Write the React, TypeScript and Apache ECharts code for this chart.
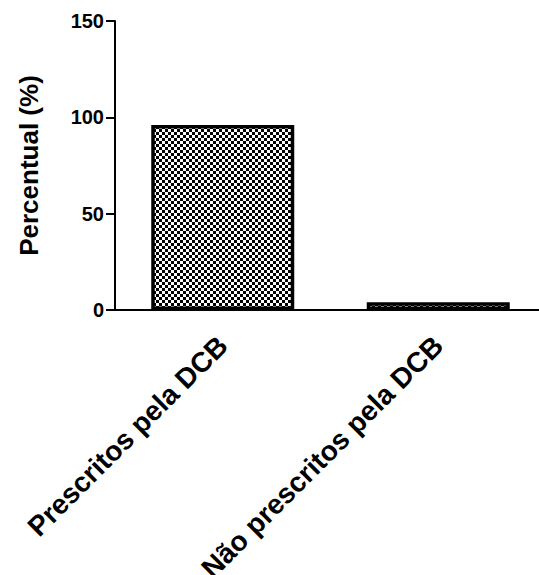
import React, { useEffect, useRef } from "react";
import * as echarts from "echarts";

const categories = ["Prescritos pela DCB", "Não prescritos pela DCB"];
const values = [96, 4];
const yTicks = { min: 0, max: 150, interval: 50 };
const yAxisName = "Percentual (%)";

function makePattern(): HTMLCanvasElement {
  const c = document.createElement("canvas");
  c.width = 6;
  c.height = 6;
  const ctx = c.getContext("2d")!;
  ctx.fillStyle = "#ffffff";
  ctx.fillRect(0, 0, 6, 6);
  ctx.fillStyle = "#000000";
  ctx.fillRect(0, 0, 3, 3);
  ctx.fillRect(3, 3, 3, 3);
  return c;
}

export default function App() {
  const ref = useRef<HTMLDivElement>(null);
  useEffect(() => {
    if (!ref.current) return;
    const chart = echarts.init(ref.current, undefined, { renderer: "svg" });
    const pattern = makePattern();
    const font = "'Liberation Sans', Arial, sans-serif";
    chart.setOption({
      animation: false,
      backgroundColor: "#ffffff",
      textStyle: { fontFamily: font },
      grid: {
        left: 115,
        right: -7,
        top: 21,
        bottom: 265,
        containLabel: false,
        outerBoundsMode: "none",
      },
      xAxis: {
        type: "category",
        data: categories,
        axisLine: { lineStyle: { color: "#000", width: 2 } },
        axisTick: { alignWithLabel: true, length: 8, lineStyle: { color: "#000", width: 2 } },
        axisLabel: {
          rotate: 45,
          interval: 0,
          margin: 31,
          color: "#000",
          fontWeight: "bold",
          fontSize: 28,
          fontFamily: font,
        },
      },
      yAxis: {
        type: "value",
        min: yTicks.min,
        max: yTicks.max,
        interval: yTicks.interval,
        name: yAxisName,
        nameLocation: "middle",
        nameGap: 73,
        nameTextStyle: { color: "#000", fontWeight: "bold", fontSize: 26, fontFamily: font },
        splitLine: { show: false },
        axisLine: { show: true, lineStyle: { color: "#000", width: 2 } },
        axisTick: { show: true, length: 9, lineStyle: { color: "#000", width: 2 } },
        axisLabel: { margin: 11, color: "#000", fontWeight: "bold", fontSize: 20, fontFamily: font },
      },
      series: [
        {
          type: "bar",
          data: values,
          barWidth: 143,
          itemStyle: {
            color: { image: pattern, repeat: "repeat" },
            borderColor: "#000",
            borderWidth: 3.5,
          },
        },
      ],
    });
    return () => chart.dispose();
  }, []);
  return (
    <div
      ref={ref}
      style={{ position: "absolute", left: 0, top: 0, width: 539, height: 575 }}
    />
  );
}
